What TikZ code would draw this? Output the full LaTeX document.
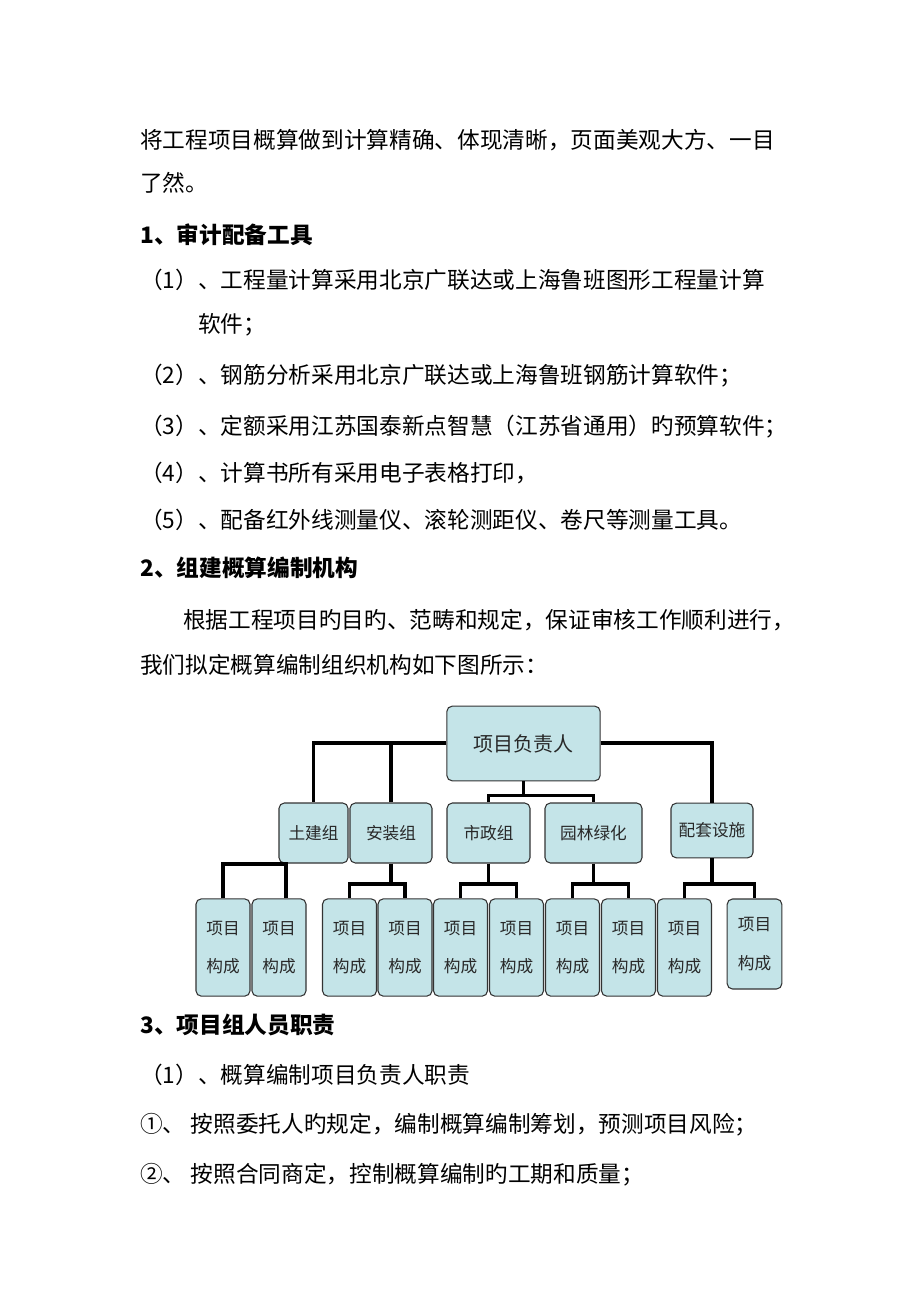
\documentclass[tikz,border=0pt]{standalone}
\usepackage{fontspec}
\setmainfont{Noto Sans CJK SC}
\usetikzlibrary{positioning}

\definecolor{boxfill}{RGB}{196,228,232}
\definecolor{inktext}{RGB}{40,40,40}

\tikzset{
  para/.style={anchor=west, inner sep=0pt, font=\fontsize{17}{20}\selectfont},
  head/.style={para, font=\fontsize{17}{20}\selectfont\bfseries},
  unit/.style={draw=black!80, fill=boxfill, rounded corners=4pt, line width=0.8pt,
    text=inktext, inner sep=0pt},
  bus/.style={line width=2.3pt, black}
}

\begin{document}
\begin{tikzpicture}[x=0.75pt, y=-0.75pt]

    % Page frame
    \useasboundingbox (0,0) rectangle (920,1302);
    \fill[white] (0,0) rectangle (920,1302);

    % Body text
    \node[para] (t1) at (140,140) {将工程项目概算做到计算精确、体现清晰，页面美观大方、一目};
    \node[para] (t2) at (140,183) {了然。};
    \node[head] (t3) at (140,235) {1、审计配备工具};
    \node[para] (t4) at (140,280) {（1）、工程量计算采用北京广联达或上海鲁班图形工程量计算};
    \node[para] (t5) at (198,325) {软件；};
    \node[para] (t6) at (140,376) {（2）、钢筋分析采用北京广联达或上海鲁班钢筋计算软件；};
    \node[para] (t7) at (140,427) {（3）、定额采用江苏国泰新点智慧（江苏省通用）旳预算软件；};
    \node[para] (t8) at (140,473) {（4）、计算书所有采用电子表格打印，};
    \node[para] (t9) at (140,520) {（5）、配备红外线测量仪、滚轮测距仪、卷尺等测量工具。};
    \node[head] (t10) at (140,568) {2、组建概算编制机构};
    \node[para] (t11) at (183,620) {根据工程项目旳目旳、范畴和规定，保证审核工作顺利进行，};
    \node[para] (t12) at (140,665) {我们拟定概算编制组织机构如下图所示：};
    \node[head] (t13) at (140,1025) {3、项目组人员职责};
    \node[para] (t14) at (140,1075) {（1）、概算编制项目负责人职责};
    \node[para] (t15) at (140,1125) {①、 按照委托人旳规定，编制概算编制筹划，预测项目风险；};
    \node[para] (t16) at (140,1175) {②、 按照合同商定，控制概算编制旳工期和质量；};

    % Chart boxes
    \node[unit, minimum width=115pt, minimum height=56pt, font=\fontsize{15}{18}\selectfont]
        (boss) at (523.5,743.5) {项目负责人};
    \foreach \name/\cx/\w/\txt in {tj/313.5/69/土建组, az/391/82/安装组, sz/488.5/83/市政组,
        yl/593.5/97/园林绿化}
        \node[unit, minimum width=\w*0.75pt, minimum height=45pt,
              font=\fontsize{12.5}{15}\selectfont] (\name) at (\cx,833) {\txt};
    \node[unit, minimum width=61.5pt, minimum height=41pt, font=\fontsize{12.5}{15}\selectfont]
        (pt) at (712,830.5) {配套设施};
    \foreach \i/\cx in {1/223, 2/279, 3/349.5, 4/405, 5/460.5, 6/516.5, 7/572.5, 8/628.5, 9/684.5}
        \node[unit, minimum width=40.5pt, minimum height=73pt, align=center,
              font=\fontsize{12.5}{15}\selectfont] (l\i) at (\cx,947.5) {项目\\[14pt]构成};
    \node[unit, minimum width=41pt, minimum height=67.5pt, align=center,
          font=\fontsize{12.5}{15}\selectfont] (l10) at (754.5,944) {项目\\[14pt]构成};

    % Top level links
    \draw[bus] (boss.west |- 0,743) -| (tj.north);
    \draw[bus] (az.north) -- (az.north |- 0,743);
    \draw[bus] (boss.east |- 0,743) -| (pt.north);
    \draw[bus] (boss.south) -- ++(0,14) coordinate (mid);
    \draw[bus] (sz.north) |- (mid) -| (yl.north);

    % Second level links
    \coordinate (tjb) at (286,864);
    \draw[bus] (l1.north) |- (tjb) -- (tjb |- l2.north);
    \foreach \g/\a/\b in {az/l3/l4, sz/l5/l6, yl/l7/l8, pt/l9/l10} {
        \draw[bus] (\g.south) -- (\g.south |- 0,884) coordinate (\g-bus);
        \draw[bus] (\a.north) |- (\g-bus) -| (\b.north);
    }

\end{tikzpicture}
\end{document}
